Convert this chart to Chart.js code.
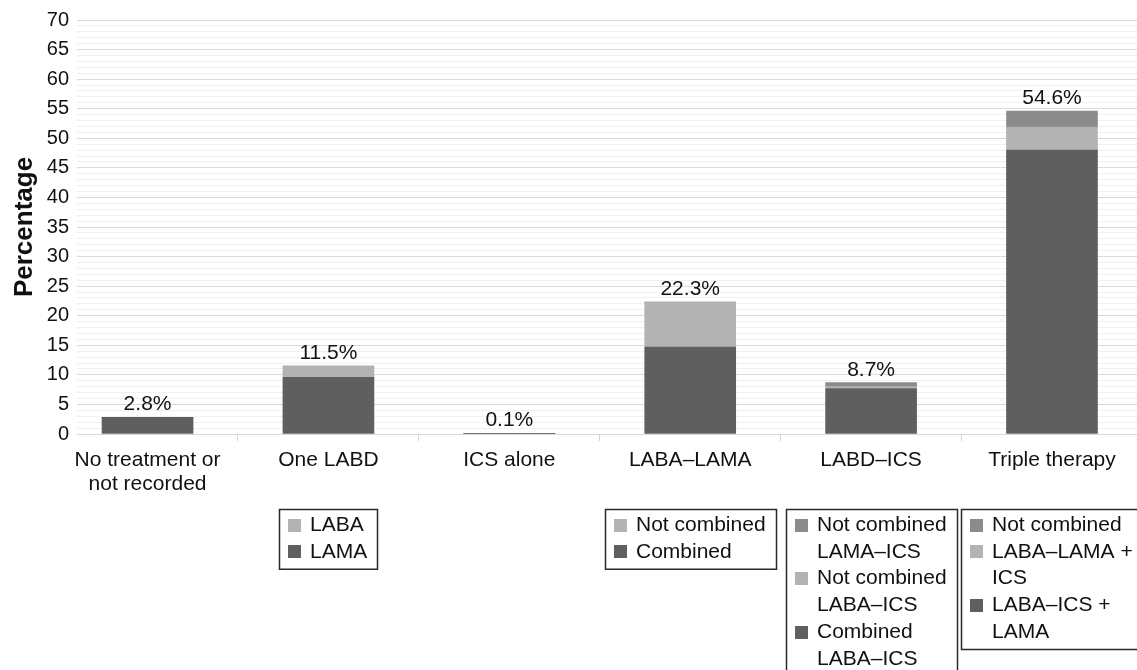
<!DOCTYPE html>
<html>
<head>
<meta charset="utf-8">
<script src="https://cdn.jsdelivr.net/npm/chart.js@4.4.1/dist/chart.umd.min.js"></script>
<style>
  html, body { margin: 0; padding: 0; background: #fff; overflow: hidden; }
  #wrap { width: 1137px; height: 670px; position: relative; }
</style>
</head>
<body>
<div id="wrap"><canvas id="c" width="1137" height="670"></canvas></div>
<script>
// Treatment groups along the x axis
const categories = ['No treatment or\nnot recorded', 'One LABD', 'ICS alone', 'LABA–LAMA', 'LABD–ICS', 'Triple therapy'];

// Stacked segments (percent of patients), bottom to top
const baseValues   = [2.8, 9.6, 0.1, 14.7, 7.7, 48.0];
const middleValues = [0,   1.9, 0,   7.6,  0.3, 3.9];
const topValues    = [0,   0,   0,   0,    0.7, 2.7];

// Segment names shown in the per-group legend boxes
const baseNames   = ['', 'LAMA', '', 'Combined',     'Combined\nLABA–ICS',     'LABA–ICS +\nLAMA'];
const middleNames = ['', 'LABA', '', 'Not combined', 'Not combined\nLABA–ICS', 'LABA–LAMA +\nICS'];
const topNames    = ['', '',     '', '',             'Not combined\nLAMA–ICS', 'Not combined'];

// Y axis ticks
const yTickMax = 70;
const yMajorStep = 5;

const COLORS = { base: '#5f5f5f', middle: '#b3b3b3', top: '#8b8b8b' };
const FONT = '"Liberation Sans", Arial, Helvetica, sans-serif';
const TEXT = '#111111';

Chart.defaults.font.family = FONT;
Chart.defaults.color = TEXT;

const toPoints = arr => arr.map((v, i) => ({ x: i, y: v }));

// Percentage above each stacked bar
const totalsPlugin = {
  id: 'totals',
  afterDatasetsDraw(chart) {
    const { ctx, scales: { x, y } } = chart;
    ctx.save();
    ctx.font = '21px ' + FONT;
    ctx.fillStyle = TEXT;
    ctx.textAlign = 'center';
    ctx.textBaseline = 'alphabetic';
    categories.forEach((c, i) => {
      const total = baseValues[i] + middleValues[i] + topValues[i];
      ctx.fillText(total.toFixed(1) + '%', x.getPixelForValue(i), y.getPixelForValue(total) - 7);
    });
    ctx.restore();
  }
};

// Boxed legend under each group that has named segments
const groupLegendPlugin = {
  id: 'groupLegend',
  afterDraw(chart) {
    const { ctx, scales: { x } } = chart;
    const boxTop = 509, firstLine = 16, lineH = 26.75, bottomPad = 17;
    const sq = 13, sqLeft = 9, textLeft = 31, rightPad = 10;
    ctx.save();
    ctx.font = '21px ' + FONT;
    ctx.textBaseline = 'middle';
    ctx.textAlign = 'left';
    categories.forEach((c, i) => {
      const entries = [
        { name: topNames[i], color: COLORS.top },
        { name: middleNames[i], color: COLORS.middle },
        { name: baseNames[i], color: COLORS.base }
      ].filter(e => e.name);
      if (!entries.length) return;
      let maxW = 0, nLines = 0;
      entries.forEach(e => {
        e.lines = e.name.split('\n');
        e.lines.forEach(l => { maxW = Math.max(maxW, ctx.measureText(l).width); });
        nLines += e.lines.length;
      });
      const w = Math.round(maxW + textLeft + rightPad);
      const h = firstLine + (nLines - 1) * lineH + bottomPad;
      const left = Math.round(x.getPixelForValue(i) - w / 2);
      ctx.strokeStyle = '#2a2a2a';
      ctx.lineWidth = 1.5;
      ctx.strokeRect(left + 0.5, boxTop + 0.5, w, h);
      let k = 0;
      entries.forEach(e => {
        const cy = boxTop + firstLine + k * lineH;
        ctx.fillStyle = e.color;
        ctx.fillRect(left + sqLeft, Math.round(cy - sq / 2), sq, sq);
        ctx.fillStyle = TEXT;
        e.lines.forEach(l => {
          ctx.fillText(l, left + textLeft, boxTop + firstLine + k * lineH);
          k++;
        });
      });
    });
    ctx.restore();
  }
};

new Chart(document.getElementById('c'), {
  type: 'bar',
  data: {
    datasets: [
      { data: toPoints(baseValues),   backgroundColor: COLORS.base },
      { data: toPoints(middleValues), backgroundColor: COLORS.middle },
      { data: toPoints(topValues),    backgroundColor: COLORS.top }
    ]
  },
  options: {
    responsive: false,
    animation: false,
    devicePixelRatio: 1,
    barThickness: 91,
    layout: { padding: { top: 20, right: 0, bottom: 176, left: 0 } },
    plugins: { legend: { display: false }, tooltip: { enabled: false } },
    scales: {
      x: {
        type: 'linear',
        stacked: true,
        offset: false,
        min: -0.39,
        max: 5.47,
        afterBuildTicks(scale) {
          const t = [];
          categories.forEach((c, i) => {
            t.push({ value: i });
            if (i < categories.length - 1) t.push({ value: i + 0.5 });
          });
          scale.ticks = t;
        },
        afterFit(scale) { scale.height = 60; },
        grid: {
          offset: false,
          drawOnChartArea: false,
          drawTicks: true,
          tickLength: 7,
          color: ctx => (ctx.tick && ctx.tick.value % 1 !== 0) ? '#d6d6d6' : 'rgba(0,0,0,0)'
        },
        border: { display: true, color: '#d9d9d9' },
        ticks: {
          autoSkip: false,
          maxRotation: 0,
          minRotation: 0,
          padding: 7,
          color: TEXT,
          font: { size: 21, lineHeight: 1.15 },
          callback: v => Number.isInteger(v) ? categories[v].split('\n') : ''
        }
      },
      y: {
        stacked: true,
        min: 0,
        max: yTickMax,
        afterFit(scale) { scale.width = 77; },
        title: {
          display: true,
          text: 'Percentage',
          color: TEXT,
          font: { size: 26, weight: 'bold' },
          padding: { top: 9, bottom: 0 }
        },
        grid: {
          drawTicks: false,
          color: ctx => (ctx.tick && ctx.tick.value % yMajorStep === 0) ? '#d9d9d9' : '#f0f0f0'
        },
        border: { display: false },
        ticks: {
          stepSize: 1,
          autoSkip: false,
          padding: 8,
          color: TEXT,
          font: { size: 20 },
          callback: v => v % yMajorStep === 0 ? v : ''
        }
      }
    }
  },
  plugins: [totalsPlugin, groupLegendPlugin]
});
</script>
</body>
</html>
